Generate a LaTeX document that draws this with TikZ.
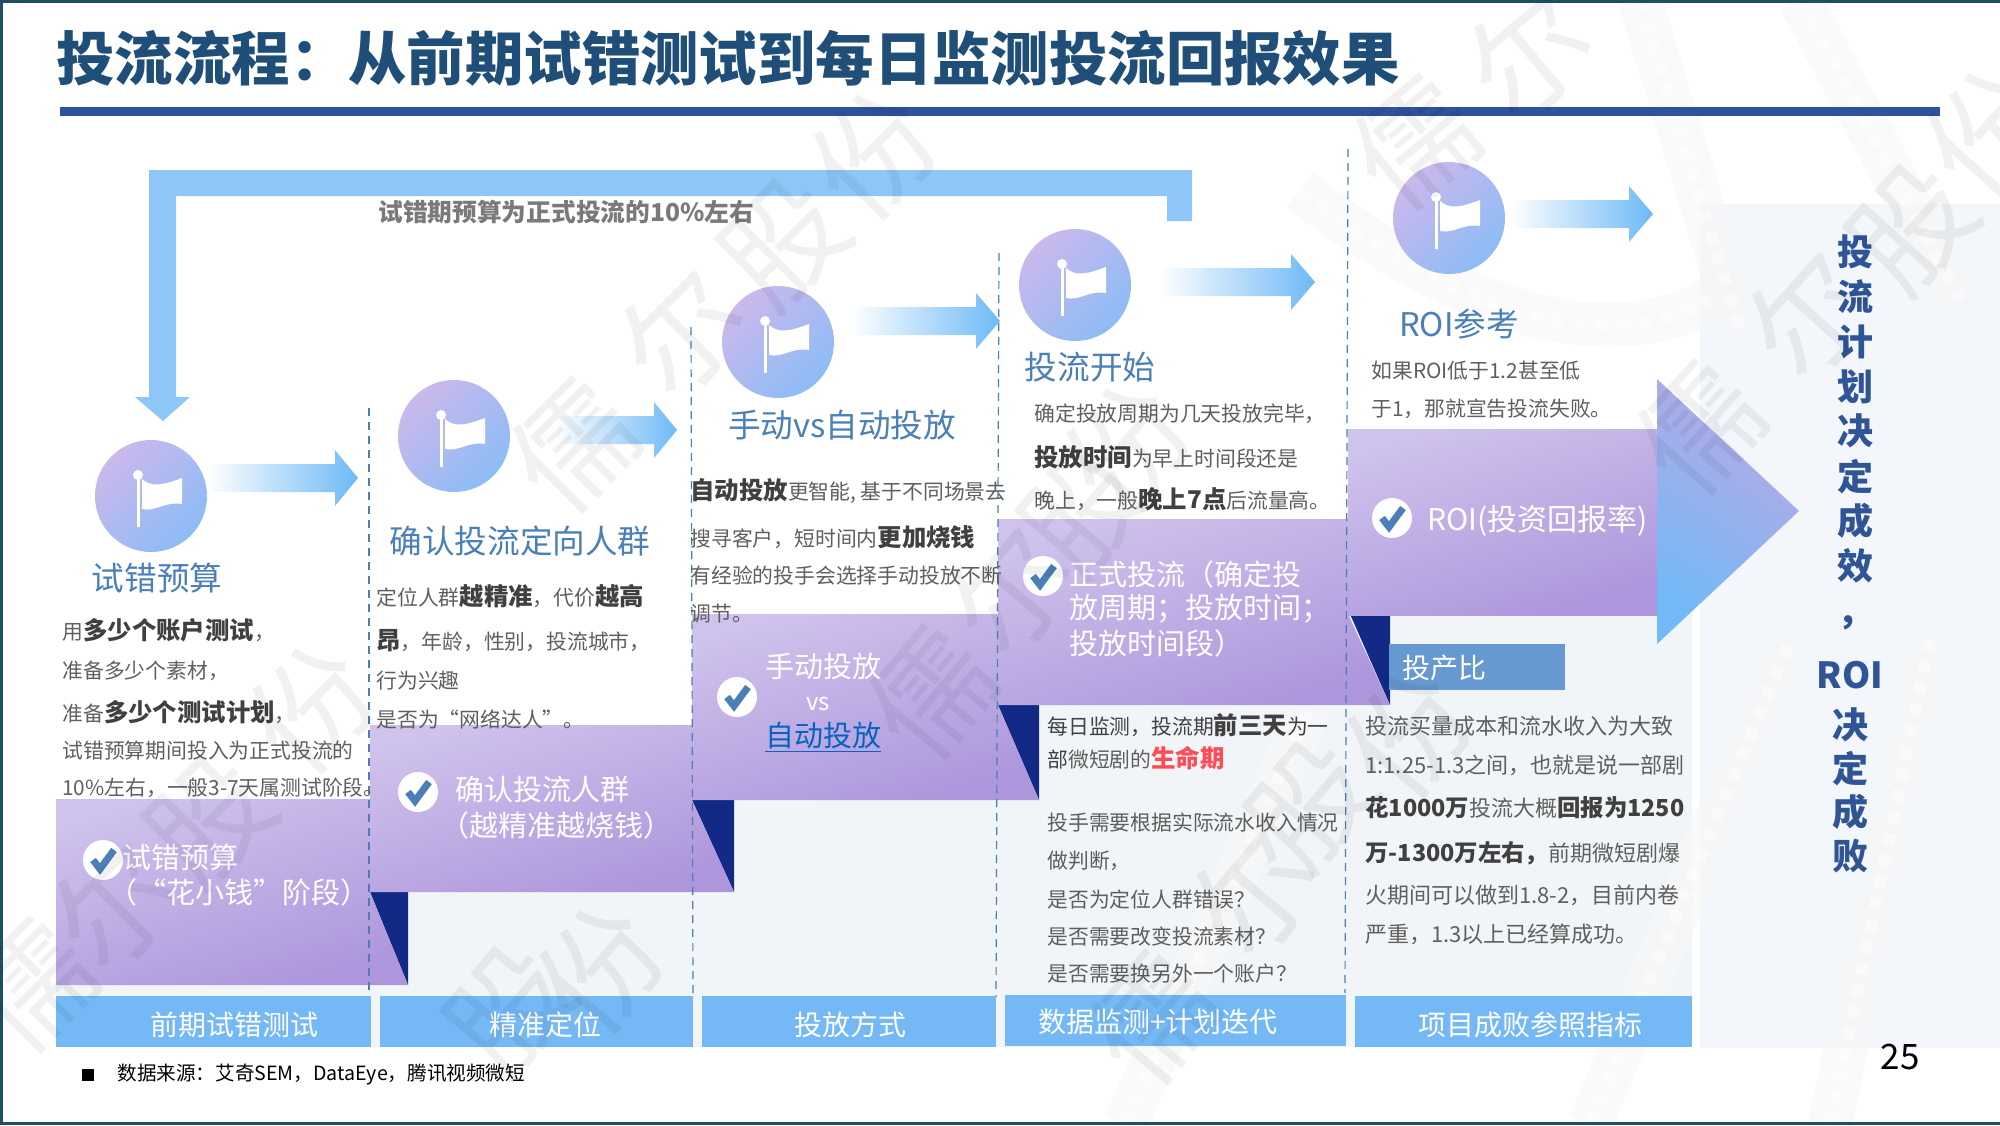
\documentclass[tikz,border=0pt]{standalone}
\usepackage{fontspec}
\setmainfont{Noto Sans CJK SC}
\definecolor{framecol}{HTML}{1F4E6B}
\definecolor{titlecol}{HTML}{1F4E79}
\definecolor{rulecol}{HTML}{2F529F}
\definecolor{loopcol}{HTML}{8EC6F8}
\definecolor{headcol}{HTML}{4A7FB8}
\definecolor{bodycol}{HTML}{5F5F5F}
\definecolor{graycol}{HTML}{7A7A7A}
\definecolor{darkcol}{HTML}{404040}
\definecolor{barcol}{HTML}{74B9F6}
\definecolor{navycol}{HTML}{122A85}
\definecolor{dashcol}{HTML}{4A7EB5}
\definecolor{sidecol}{HTML}{2F5597}
\definecolor{ratiocol}{HTML}{6699D0}
\definecolor{lifecol}{HTML}{FF4B55}
\definecolor{linkcol}{HTML}{0563C1}
\definecolor{panelcol}{HTML}{F2F5F7}
\definecolor{sidepanel}{HTML}{F3F6FB}
\newcommand{\fsz}[1]{\fontsize{#1}{#1}\selectfont}
\newcommand{\hl}[1]{{\bfseries\fsz{12.2pt}\color{darkcol}#1}}
\newcommand{\hlb}[1]{{\bfseries\fsz{11.7pt}\color{darkcol}#1}}
\tikzset{>=latex,
    txt/.style={anchor=west, inner sep=0pt},
    bodytxt/.style={txt, text=bodycol, font=\fsz{10.4pt}},
    bodybig/.style={txt, text=bodycol, font=\fsz{11pt}},
    headtxt/.style={inner sep=0pt, text=headcol, font=\fsz{16.3pt}},
    boxtxt/.style={txt, text=white, font=\fsz{14.5pt}},
    bartxt/.style={inner sep=0pt, text=white, font=\fsz{14pt}},
    sidetxt/.style={inner sep=0pt, text=sidecol, font=\bfseries\fsz{18pt}},
    barbox/.style={fill=barcol, draw=none},
    purplebox/.style={top color=purpA, bottom color=purpB, shading angle=18},
    flagball/.style={circle, inner sep=0pt, minimum size=56pt, top color=ballA, bottom color=ballB, shading angle=45},
    arrowshade/.style={left color=white, right color=arrowcol},
    dashline/.style={draw=dashcol, line width=.6pt, dash pattern=on 4pt off 3pt},
    filmstrip/.style={line width=22pt, draw=black!3, opacity=.5,
        postaction={draw=white, line width=6pt, dash pattern=on 6pt off 5pt}},
    stamp/.style={inner sep=0pt, text=black, opacity=.055, font=\fsz{60pt}},
    flagicon/.pic={
        \fill[white] (-14.5,-20) rectangle (-11.5,31);
        \fill[white] (-13,-21) circle (2.5pt);
        \fill[white] (-9,-17) .. controls (0,-9) and (10,-10) .. (31,-18)
            -- (31,8) .. controls (14,5) and (5,16) .. (-9,13) -- cycle;
    },
    checkicon/.pic={
        \fill[white] (0,0) circle (10pt);
        \draw[headcol, line width=3.5pt] (-10,0) -- (-3,9) -- (11,-10);
    }
}
\definecolor{purpA}{HTML}{CFC2EC}
\definecolor{purpB}{HTML}{AD96DC}
\definecolor{ballA}{HTML}{CBB8EC}
\definecolor{ballB}{HTML}{8CBCF6}
\definecolor{arrowcol}{HTML}{6EB9F6}
\definecolor{triA}{HTML}{B9A9E4}
\definecolor{triB}{HTML}{72B9F7}

\begin{document}
\begin{tikzpicture}[x=.5pt,y=-.5pt]
    \useasboundingbox (0,0) rectangle (2000,1125);
    \fill[white] (0,0) rectangle (2000,1125);

    % panels behind the steps
    \fill[panelcol] (56,800) -- (370,800) -- (370,725) -- (692,725) -- (692,614) -- (998,614) -- (998,519)
        -- (1348,519) -- (1348,430) -- (1692,430) -- (1692,1047) -- (56,1047) -- cycle;
    \fill[sidepanel] (1700,204) rectangle (2000,1048);

    % film in the background
    \draw[filmstrip] (1125,1125) -- (1340,640);
    \draw[filmstrip] (1590,1125) -- (1790,640);
    \draw[filmstrip] (1830,1125) -- (1930,640);
    \draw[filmstrip] (1640,0) -- (1740,330);
    \draw[filmstrip] (1800,0) -- (1960,300);
    \draw[filmstrip] (1300,190) .. controls (1480,330) and (1620,350) .. (1710,300);

    % frame and title
    \fill[framecol] (0,0) rectangle (2000,3);
    \fill[framecol] (0,0) rectangle (3,1125);
    \fill[framecol] (0,1122) rectangle (2000,1125);
    \node[txt, text=titlecol, font=\bfseries\fsz{29.2pt}] (title) at (56,58) {投流流程：从前期试错测试到每日监测投流回报效果};
    \fill[rulecol] (60,107) rectangle (1940,116);

    % loop back arrow
    \fill[loopcol] (1192,221) -- (1192,170) -- (149,170) -- (149,397) -- (135,397) -- (163,421) -- (190,397)
        -- (176,397) -- (176,196) -- (1167,196) -- (1167,221) -- cycle;
    \node[txt, text=graycol, font=\bfseries\fsz{12.35pt}] (looplabel) at (378,212) {试错期预算为正式投流的10\%左右};

    % purple steps
    \fill[navycol] (370,892) -- (408,892) -- (408,985) -- cycle;
    \fill[navycol] (692,800) -- (734,800) -- (734,892) -- cycle;
    \fill[navycol] (998,705) -- (1039,705) -- (1039,800) -- cycle;
    \fill[navycol] (1350,614) -- (1390,614) -- (1390,705) -- cycle;
    \shade[purplebox] (56,799) -- (370,799) -- (370,892) -- (408,985) -- (56,985) -- cycle;
    \shade[purplebox] (370,725) -- (692,725) -- (692,800) -- (734,892) -- (370,892) -- cycle;
    \shade[purplebox] (692,614) -- (998,614) -- (998,705) -- (1039,800) -- (692,800) -- cycle;
    \shade[purplebox] (998,519) -- (1348,519) -- (1348,614) -- (1390,705) -- (998,705) -- cycle;
    \shade[purplebox] (1348,429) rectangle (1657,615);
    \shade[top color=triA, bottom color=triB, shading angle=-35] (1657,379) -- (1799,511) -- (1657,644) -- cycle;

    % dashed separators
    \draw[dashline] (369,408) -- (369,997);
    \draw[dashline] (691,327) -- (693,997);
    \draw[dashline] (999,253) -- (996,997);
    \draw[dashline] (1348,149) -- (1345,993);

    % flags and arrows
    \foreach \xb/\yb [count=\i] in {151/496, 454/436, 778/342, 1075/285, 1449/218}{
        \node[flagball] (ball\i) at (\xb,\yb) {};
        \pic at (ball\i) {flagicon};
    }
    \foreach \xa/\xd/\xc/\yc in {207/335/358/478, 555/654/677/430, 851/976/1000/321, 1159/1291/1315/282, 1510/1629/1653/214}{
        \shade[arrowshade] (\xa,\yc-14) -- (\xd,\yc-14) -- (\xd,\yc-28) -- (\xc,\yc) -- (\xd,\yc+28) -- (\xd,\yc+14) -- (\xa,\yc+14) -- cycle;
    }

    % headings
    \node[headtxt] (head1) at (157,578) {试错预算};
    \node[headtxt] (head2) at (520,541) {确认投流定向人群};
    \node[headtxt] (head3) at (842,425) {手动vs自动投放};
    \node[headtxt] (head4) at (1090,367) {投流开始};
    \node[headtxt] (head5) at (1459,324) {ROI参考};

    % texts above the steps
    \foreach \yt/\txt [count=\i] in {630/{用\hl{多少个账户测试}，}, 671/{准备多少个素材，}, 712/{准备\hl{多少个测试计划}，},
        751/{试错预算期间投入为正式投流的}, 788/{10\%左右，一般3-7天属测试阶段。}}{
        \node[bodytxt] (cola\i) at (62,\yt) {\txt};
    }
    \foreach \yt/\txt [count=\i] in {596/{定位人群\hl{越精准}，代价\hl{越高}}, 641/{\hl{昂}，年龄，性别，投流城市，},
        681/{行为兴趣}, 719/{是否为“网络达人”。}}{
        \node[bodytxt] (colb\i) at (376,\yt) {\txt};
    }
    \foreach \yt/\txt [count=\i] in {491/{\hl{自动投放}更智能, 基于不同场景去}, 537/{搜寻客户，短时间内\hl{更加烧钱}},
        576/{有经验的投手会选择手动投放不断}, 614/{调节。}}{
        \node[bodytxt] (colc\i) at (690,\yt) {\txt};
    }
    \foreach \yt/\txt [count=\i] in {414/{确定投放周期为几天投放完毕，}, 457/{\hl{投放时间}为早上时间段还是},
        499/{晚上，一般\hl{晚上7点}后流量高。}}{
        \node[bodytxt] (cold\i) at (1034,\yt) {\txt};
    }
    \foreach \yt/\txt [count=\i] in {371/{如果ROI低于1.2甚至低}, 409/{于1，那就宣告投流失败。}}{
        \node[bodytxt] (cole\i) at (1371,\yt) {\txt};
    }

    % texts in the steps
    \pic at (103,860) {checkicon};
    \pic at (418,792) {checkicon};
    \pic at (737,697) {checkicon};
    \pic at (1043,576) {checkicon};
    \pic at (1392,518) {checkicon};
    \node[boxtxt] (stepa1) at (122,857) {试错预算};
    \node[boxtxt] (stepa2) at (108,892) {（“花小钱”阶段）};
    \node[boxtxt] (stepb1) at (455,789) {确认投流人群};
    \node[boxtxt] (stepb2) at (440,825) {（越精准越烧钱）};
    \node[boxtxt, anchor=center] (stepc1) at (823,666) {手动投放};
    \node[boxtxt, anchor=center, font=\fsz{12pt}] (stepc2) at (818,704) {vs};
    \node[boxtxt, anchor=center, text=linkcol] (stepc3) at (823,737) {\underline{自动投放}};
    \node[boxtxt] (stepd1) at (1069,574) {正式投流（确定投};
    \node[boxtxt] (stepd2) at (1069,609) {放周期；投放时间；};
    \node[boxtxt] (stepd3) at (1069,643) {投放时间段）};
    \node[boxtxt, font=\fsz{15pt}] (stepe1) at (1427,521) {ROI(投资回报率)};

    % ratio label and lower texts
    \node[fill=ratiocol, minimum width=88pt, minimum height=23pt, inner sep=0pt] (ratio) at (1477,667) {};
    \node[boxtxt, font=\fsz{14pt}] (ratiotxt) at (1402,668) {投产比};
    \node[bodytxt, text=darkcol] (colf1) at (1047,725) {每日监测，投流期\hl{前三天}为一};
    \node[bodytxt] (colf2) at (1047,758) {\textcolor{darkcol}{部}微短剧的{\bfseries\fsz{12.2pt}\color{lifecol}生命期}};
    \foreach \yt/\txt [count=\i] in {823/{投手需要根据实际流水收入情况}, 861/{做判断，}, 900/{是否为定位人群错误？},
        937/{是否需要改变投流素材？}, 974/{是否需要换另外一个账户？}}{
        \node[bodytxt, text=darkcol!85] (colg\i) at (1047,\yt) {\txt};
    }
    \foreach \yt/\txt [count=\i] in {726/{投流买量成本和流水收入为大致}, 765/{1:1.25-1.3之间，也就是说一部剧},
        808/{\hlb{花1000万}投流大概\hlb{回报为1250}}, 853/{\hlb{万-1300万左右，}前期微短剧爆},
        895/{火期间可以做到1.8-2，目前内卷}, 934/{严重，1.3以上已经算成功。}}{
        \node[bodybig] (colh\i) at (1365,\yt) {\txt};
    }

    % bottom bars
    \fill[barbox] (56,996) rectangle (371,1047);
    \fill[barbox] (380,996) rectangle (693,1047);
    \fill[barbox] (702,996) rectangle (996,1047);
    \fill[barbox] (1005,995) rectangle (1346,1046);
    \fill[barbox] (1355,996) rectangle (1692,1047);
    \node[bartxt] (bar1) at (234,1025) {前期试错测试};
    \node[bartxt] (bar2) at (545,1025) {精准定位};
    \node[bartxt] (bar3) at (850,1025) {投放方式};
    \node[bartxt] (bar4) at (1158,1022) {数据监测+计划迭代};
    \node[bartxt] (bar5) at (1530,1025) {项目成败参照指标};

    % side title
    \foreach \yt/\ch [count=\i] in {252/投, 297/流, 342/计, 387/划, 431/决, 477/定, 521/成, 566/效, 623/，}{
        \node[sidetxt] (sidea\i) at (1855,\yt) {\ch};
    }
    \foreach \yt/\ch [count=\i] in {675/ROI, 725/决, 769/定, 812/成, 856/败}{
        \node[sidetxt] (sideb\i) at (1850,\yt) {\ch};
    }

    % footer
    \fill[black] (82,1069) rectangle (94,1081);
    \node[txt, text=black, font=\fsz{9.8pt}] (source) at (117,1075) {数据来源：艾奇SEM，DataEye，腾讯视频微短};
    \node[inner sep=0pt, text=black, font=\fsz{17.5pt}] (pagenum) at (1900,1057) {25};

    % watermark
    \foreach \xs/\ys/\rot/\ch [count=\i] in {
        574/446/45/儒, 682/332/45/尔, 784/243/45/股, 874/154/45/份,
        1415/143/40/儒, 1529/54/40/尔,
        1700/429/48/儒, 1810/314/48/尔, 1912/228/48/股, 1988/132/48/份,
        32/986/45/儒, 115/906/45/尔, 210/820/45/股, 312/708/45/份,
        931/693/50/儒, 1010/590/50/尔, 1085/510/50/股, 1127/446/50/份,
        510/1010/50/股, 600/968/50/份,
        1153/1018/50/儒, 1255/892/50/尔, 1312/805/50/股, 1408/733/50/份}{
        \node[stamp, rotate=\rot] (stamp\i) at (\xs,\ys) {\ch};
    }
\end{tikzpicture}
\end{document}
